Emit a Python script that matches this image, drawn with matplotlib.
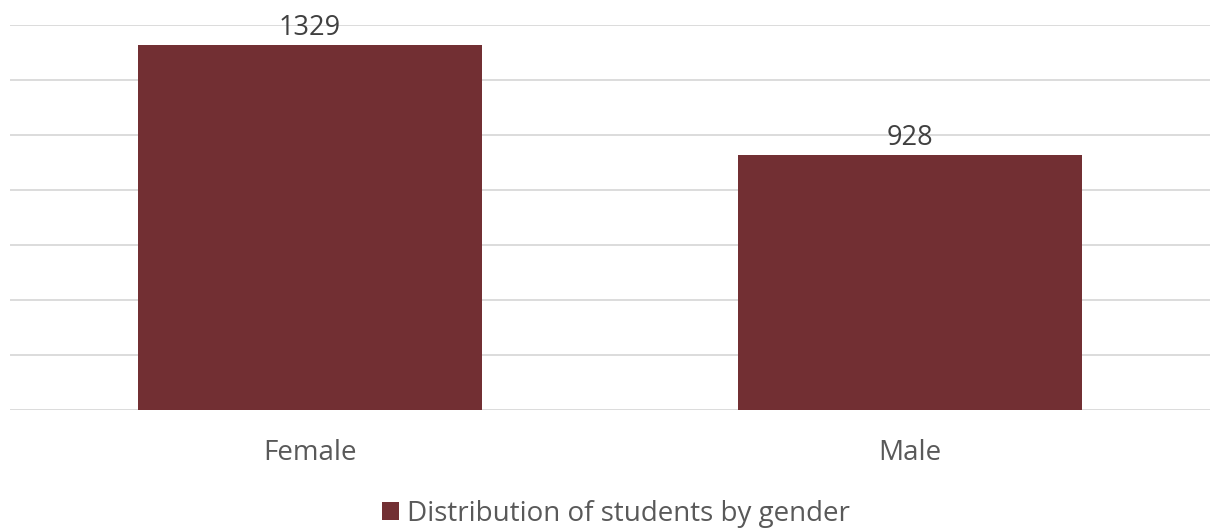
import matplotlib.pyplot as plt
from matplotlib.patches import Patch

categories = ["Female", "Male"]
counts = [1329, 928]
series_name = "Distribution of students by gender"

BAR_COLOR = "#722F33"
TEXT_COLOR = "#595959"
LABEL_COLOR = "#404040"
GRID_COLOR = "#D9D9D9"

plt.rcParams["font.family"] = ["Open Sans", "DejaVu Sans"]

fig = plt.figure(figsize=(12.12, 5.30), dpi=100)
ax = fig.add_axes([10 / 1212, 120 / 530, 1200 / 1212, 385 / 530])

x = range(len(categories))
bars = ax.bar(x, counts, width=0.573, color=BAR_COLOR, zorder=3)

ax.set_xlim(-0.5, len(categories) - 0.5)
ax.set_ylim(0, 1400)
ax.set_yticks(range(0, 1401, 200))
ax.yaxis.grid(True, color=GRID_COLOR, linewidth=1.3, zorder=0)
ax.set_yticklabels([])
ax.tick_params(axis="y", length=0)
ax.set_xticks(list(x))
ax.set_xticklabels(categories, fontsize=20, color=TEXT_COLOR)
ax.tick_params(axis="x", length=0, pad=21)
for side in ["top", "right", "left", "bottom"]:
    ax.spines[side].set_visible(False)

for b, v in zip(bars, counts):
    ax.annotate(str(v), (b.get_x() + b.get_width() / 2, v), xytext=(0, 2),
                textcoords="offset points", ha="center", va="bottom",
                fontsize=19.5, color=LABEL_COLOR)

handle = Patch(facecolor=BAR_COLOR, edgecolor="none")
fig.legend([handle], [series_name], loc="center", bbox_to_anchor=(616 / 1212, 1 - 514 / 530),
           frameon=False, fontsize=20, labelcolor=TEXT_COLOR,
           handlelength=0.62, handleheight=0.62, handletextpad=0.3)

fig.savefig("out.png", dpi=100)
